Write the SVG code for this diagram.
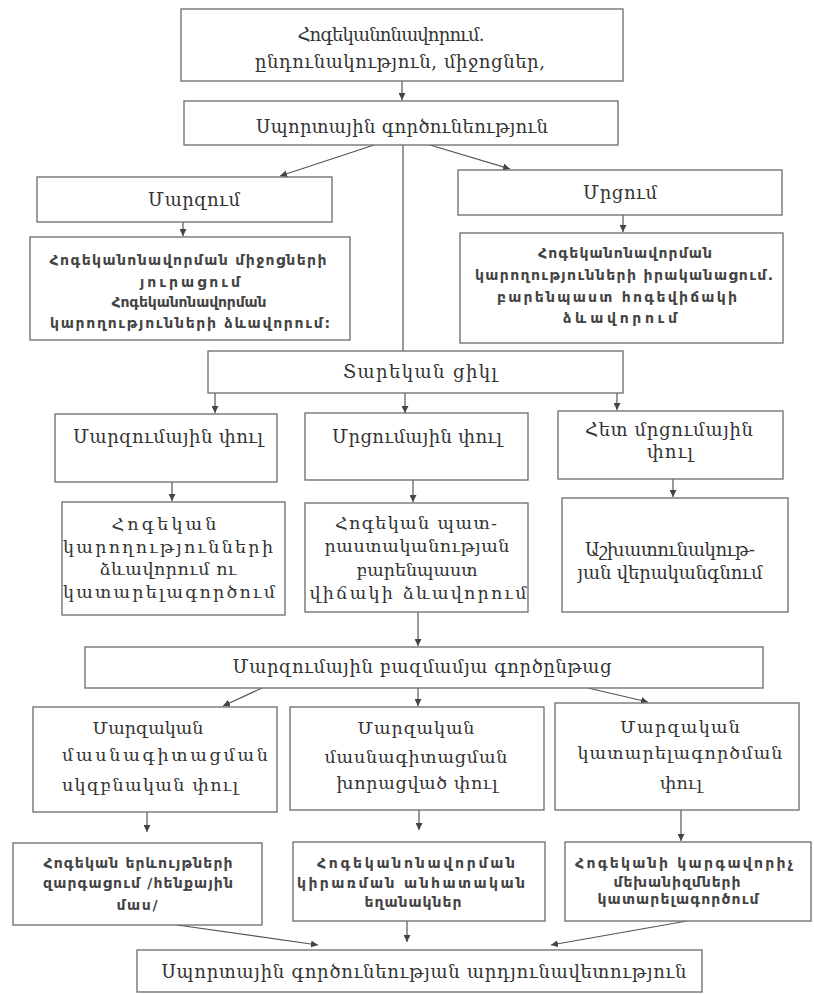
<svg xmlns="http://www.w3.org/2000/svg" width="814" height="994" viewBox="0 0 814 994">
<style>
.b{fill:#fff;stroke:#6a6a6a;stroke-width:1.3}
.t{font-family:"DejaVu Serif","DejaVu Sans",serif;font-size:18px;fill:#333;text-anchor:middle}
.m{font-family:"DejaVu Serif","DejaVu Sans",serif;font-size:17.5px;fill:#333;text-anchor:middle}
.s{font-family:"DejaVu Sans",sans-serif;font-size:14px;font-weight:bold;fill:#444;text-anchor:middle}
.c{stroke:#555;stroke-width:1.2;fill:none;marker-end:url(#a)}
.l{stroke:#555;stroke-width:1.2;fill:none}
</style>
<defs>
<marker id="a" viewBox="0 0 10 10" refX="10" refY="5" markerWidth="7" markerHeight="7" markerUnits="userSpaceOnUse" orient="auto">
<path d="M0,0 L10,5 L0,10 z" fill="#444"/>
</marker>
</defs>
<rect width="814" height="994" fill="#fff"/>
<g id="connectors">
<line class="c" x1="402" y1="81" x2="402" y2="100"/>
<line class="c" x1="374" y1="145" x2="280" y2="176"/>
<line class="c" x1="430" y1="145" x2="510" y2="169"/>
<line class="l" x1="403" y1="145" x2="403" y2="351"/>
<line class="c" x1="183" y1="222" x2="183" y2="236"/>
<line class="c" x1="623" y1="215" x2="623" y2="232"/>
<line class="c" x1="215" y1="393" x2="215" y2="413"/>
<line class="c" x1="405" y1="393" x2="405" y2="413"/>
<line class="c" x1="617" y1="393" x2="617" y2="410"/>
<line class="c" x1="172" y1="482" x2="172" y2="501"/>
<line class="c" x1="413" y1="480" x2="413" y2="502"/>
<line class="c" x1="673" y1="479" x2="673" y2="497"/>
<line class="c" x1="418" y1="612" x2="418" y2="646"/>
<line class="c" x1="262" y1="688" x2="223" y2="706"/>
<line class="c" x1="418" y1="688" x2="418" y2="706"/>
<line class="c" x1="588" y1="688" x2="648" y2="702"/>
<line class="c" x1="147" y1="812" x2="147" y2="832"/>
<line class="c" x1="419" y1="810" x2="419" y2="830"/>
<line class="c" x1="681" y1="810" x2="681" y2="841"/>
<line class="c" x1="177" y1="925" x2="318" y2="945"/>
<line class="c" x1="407" y1="921" x2="407" y2="942"/>
<line class="c" x1="687" y1="921" x2="551" y2="945"/>
</g>
<g id="n1"><rect class="b" x="181" y="9" width="442" height="72"/>
<text class="t" x="391" y="41" textLength="187" lengthAdjust="spacing">Հոգեկանոնավորում.</text>
<text class="t" x="400" y="68" textLength="290" lengthAdjust="spacing">ընդունակություն, միջոցներ,</text></g>
<g id="n2"><rect class="b" x="184" y="101" width="434" height="44"/>
<text class="t" x="402" y="133" textLength="292" lengthAdjust="spacing">Սպորտային գործունեություն</text></g>
<g id="n3"><rect class="b" x="37" y="177" width="295" height="45"/>
<text class="t" x="194" y="206" textLength="92" lengthAdjust="spacing">Մարզում</text></g>
<g id="n4"><rect class="b" x="30" y="237" width="320" height="103"/>
<text class="s" x="188" y="265" textLength="277" lengthAdjust="spacing">Հոգեկանոնավորման միջոցների</text>
<text class="s" x="190" y="287" textLength="100" lengthAdjust="spacing">յուրացում</text>
<text class="s" x="189" y="307" textLength="155" lengthAdjust="spacing">Հոգեկանոնավորման</text>
<text class="s" x="190" y="328" textLength="280" lengthAdjust="spacing">կարողությունների ձևավորում:</text></g>
<g id="n5"><rect class="b" x="458" y="170" width="324" height="45"/>
<text class="t" x="620" y="199" textLength="74" lengthAdjust="spacing">Մրցում</text></g>
<g id="n6"><rect class="b" x="460" y="233" width="323" height="110"/>
<text class="s" x="625" y="258" textLength="174" lengthAdjust="spacing">Հոգեկանոնավորման</text>
<text class="s" x="624" y="280" textLength="298" lengthAdjust="spacing">կարողությունների իրականացում.</text>
<text class="s" x="617" y="302" textLength="240" lengthAdjust="spacing">բարենպաստ հոգեվիճակի</text>
<text class="s" x="620" y="323" textLength="114" lengthAdjust="spacing">ձևավորում</text></g>
<g id="n7"><rect class="b" x="208" y="351" width="415" height="42"/>
<text class="t" x="420" y="378" textLength="154" lengthAdjust="spacing">Տարեկան ցիկլ</text></g>
<g id="n8"><rect class="b" x="55" y="414" width="222" height="68"/>
<text class="t" x="168" y="443" textLength="190" lengthAdjust="spacing">Մարզումային փուլ</text></g>
<g id="n9"><rect class="b" x="305" y="413" width="223" height="67"/>
<text class="t" x="417" y="443" textLength="170" lengthAdjust="spacing">Մրցումային փուլ</text></g>
<g id="n10"><rect class="b" x="558" y="411" width="225" height="68"/>
<text class="t" x="669" y="436" textLength="168" lengthAdjust="spacing">Հետ մրցումային</text>
<text class="t" x="670" y="458" textLength="46" lengthAdjust="spacing">փուլ</text></g>
<g id="n11"><rect class="b" x="62" y="502" width="223" height="113"/>
<text class="m" x="164" y="530" textLength="105" lengthAdjust="spacing">Հոգեկան</text>
<text class="m" x="168" y="553" textLength="210" lengthAdjust="spacing">կարողությունների</text>
<text class="m" x="168" y="575" textLength="137" lengthAdjust="spacing">ձևավորում ու</text>
<text class="m" x="169" y="598" textLength="212" lengthAdjust="spacing">կատարելագործում</text></g>
<g id="n12"><rect class="b" x="305" y="503" width="223" height="109"/>
<text class="m" x="416" y="529" textLength="162" lengthAdjust="spacing">Հոգեկան պատ-</text>
<text class="m" x="417" y="552" textLength="185" lengthAdjust="spacing">րաստականության</text>
<text class="m" x="417" y="576" textLength="121" lengthAdjust="spacing">բարենպաստ</text>
<text class="m" x="418" y="599" textLength="217" lengthAdjust="spacing">վիճակի ձևավորում</text></g>
<g id="n13"><rect class="b" x="562" y="498" width="226" height="114"/>
<text class="t" x="670" y="556" textLength="170" lengthAdjust="spacing">Աշխատունակութ-</text>
<text class="t" x="670" y="579" textLength="185" lengthAdjust="spacing">յան վերականգնում</text></g>
<g id="n14"><rect class="b" x="85" y="647" width="678" height="41"/>
<text class="t" x="422" y="673" textLength="379" lengthAdjust="spacing">Մարզումային բազմամյա գործընթաց</text></g>
<g id="n15"><rect class="b" x="33" y="707" width="244" height="105"/>
<text class="m" x="148" y="734" textLength="111" lengthAdjust="spacing">Մարզական</text>
<text class="m" x="165" y="761" textLength="206" lengthAdjust="spacing">մասնագիտացման</text>
<text class="m" x="150" y="791" textLength="176" lengthAdjust="spacing">սկզբնական փուլ</text></g>
<g id="n16"><rect class="b" x="290" y="707" width="254" height="103"/>
<text class="m" x="416" y="734" textLength="117" lengthAdjust="spacing">Մարզական</text>
<text class="m" x="416" y="763" textLength="183" lengthAdjust="spacing">մասնագիտացման</text>
<text class="m" x="417" y="789" textLength="161" lengthAdjust="spacing">խորացված փուլ</text></g>
<g id="n17"><rect class="b" x="555" y="703" width="244" height="107"/>
<text class="m" x="680" y="733" textLength="120" lengthAdjust="spacing">Մարզական</text>
<text class="m" x="680" y="759" textLength="205" lengthAdjust="spacing">կատարելագործման</text>
<text class="m" x="681" y="789" textLength="42" lengthAdjust="spacing">փուլ</text></g>
<g id="n18"><rect class="b" x="13" y="843" width="249" height="82"/>
<text class="s" x="138" y="868" textLength="189" lengthAdjust="spacing">Հոգեկան երևույթների</text>
<text class="s" x="138" y="888" textLength="190" lengthAdjust="spacing">զարգացում /հենքային</text>
<text class="s" x="137" y="910" textLength="41" lengthAdjust="spacing">մաս/</text></g>
<g id="n19"><rect class="b" x="293" y="842" width="252" height="79"/>
<text class="s" x="416" y="868" textLength="198" lengthAdjust="spacing">Հոգեկանոնավորման</text>
<text class="s" x="411" y="888" textLength="228" lengthAdjust="spacing">կիրառման անհատական</text>
<text class="s" x="413" y="907" textLength="97" lengthAdjust="spacing">եղանակներ</text></g>
<g id="n20"><rect class="b" x="565" y="842" width="246" height="79"/>
<text class="s" x="684" y="868" textLength="218" lengthAdjust="spacing">Հոգեկանի կարգավորիչ</text>
<text class="s" x="677" y="887" textLength="127" lengthAdjust="spacing">մեխանիզմների</text>
<text class="s" x="678" y="904" textLength="161" lengthAdjust="spacing">կատարելագործում</text></g>
<g id="n21"><rect class="b" x="137" y="950" width="565" height="42"/>
<text class="t" x="424" y="978" textLength="525" lengthAdjust="spacing">Սպորտային գործունեության արդյունավետություն</text></g>
</svg>
